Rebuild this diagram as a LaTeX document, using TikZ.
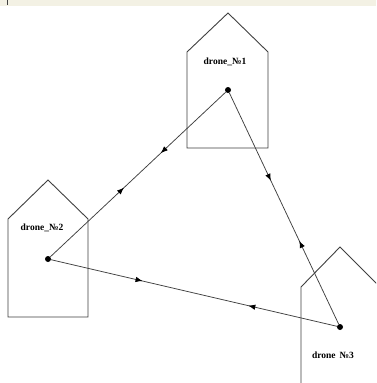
\documentclass[tikz,border=0pt]{standalone}
\usepackage{fontspec}
\setmainfont{Liberation Serif}
\usetikzlibrary{decorations.markings,arrows.meta}
\definecolor{band}{HTML}{F3F1E4}
\definecolor{edge}{HTML}{404040}
\tikzset{
  house/.style={draw=edge,line width=0.9pt},
  dot/.style={circle,fill=black,inner sep=0pt,minimum size=6pt},
  lbl/.style={font=\bfseries\fontsize{9.5}{11}\selectfont,inner sep=0pt},
  link/.style={draw=edge,line width=0.75pt,postaction={decorate}},
  tip/.tip={Latex[length=7pt,width=5.5pt,black]},
}
\begin{document}
\begin{tikzpicture}[x=1pt,y=-1pt]
\useasboundingbox (0,0) rectangle (376,383);
\clip (0,0) rectangle (376,383);
\fill[white] (0,0) rectangle (376,383);
\fill[band] (0,0) rectangle (376,6);
\draw[edge,line width=0.6pt] (7,0) -- (7,5);
% houses
\draw[house] (187,148) -- (187,52) -- (228,13) -- (268,52) -- (268,148) -- cycle;
\draw[house] (8,317) -- (8,219) -- (48,180) -- (88,219) -- (88,317) -- cycle;
\draw[house] (301,390) -- (301,287) -- (340,247) -- (380,287) -- (380,390);
% labels
\node[lbl] (t1) at (225,62) {drone\_№1};
\node[lbl] (t2) at (42,228) {drone\_№2};
\node[lbl] (t3) at (333,355) {drone \,№3};
% points
\node[dot] (d1) at (228,90) {};
\node[dot] (d2) at (48,259) {};
\node[dot] (d3) at (340,327) {};
% links
\draw[link,decoration={markings,
  mark=at position 0.37 with {\arrow{tip}},
  mark=at position 0.58 with {\arrowreversed{tip}}}] (d1) -- (d2);
\draw[link,decoration={markings,
  mark=at position 0.38 with {\arrow{tip}},
  mark=at position 0.64 with {\arrowreversed{tip}}}] (d1) -- (d3);
\draw[link,decoration={markings,
  mark=at position 0.32 with {\arrow{tip}},
  mark=at position 0.69 with {\arrowreversed{tip}}}] (d2) -- (d3);
\end{tikzpicture}
\end{document}
